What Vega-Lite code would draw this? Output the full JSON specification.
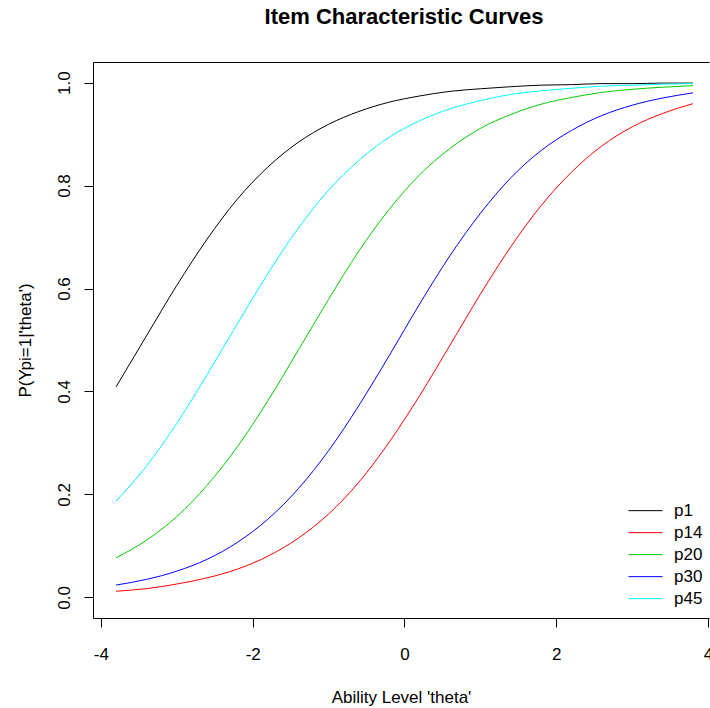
{
  "$schema": "https://vega.github.io/schema/vega-lite/v6.json",
  "width": 616,
  "height": 556,
  "autosize": "none",
  "padding": {"left": 93, "top": 62, "right": 1, "bottom": 90},
  "background": "white",
  "title": {
    "text": "Item Characteristic Curves",
    "font": "Liberation Sans",
    "fontSize": 22,
    "fontWeight": "bold",
    "color": "black",
    "anchor": "middle",
    "frame": "group",
    "offset": 33,
    "dx": 3
  },
  "config": {
    "view": {"stroke": null},
    "axis": {
      "grid": false,
      "domainColor": "black",
      "domainWidth": 1,
      "tickColor": "black",
      "tickWidth": 1,
      "labelFont": "Liberation Sans",
      "labelColor": "black",
      "titleFont": "Liberation Sans",
      "titleColor": "black",
      "titleFontWeight": "normal"
    }
  },
  "data": {
    "values": [
      {"item": "p1", "theta": -3.8, "p": 0.409}, {"item": "p1", "theta": -3.4, "p": 0.508}, {"item": "p1", "theta": -3.0, "p": 0.606}, {"item": "p1", "theta": -2.6, "p": 0.696}, {"item": "p1", "theta": -2.2, "p": 0.774}, {"item": "p1", "theta": -1.8, "p": 0.836}, {"item": "p1", "theta": -1.4, "p": 0.884}, {"item": "p1", "theta": -1.0, "p": 0.919}, {"item": "p1", "theta": -0.6, "p": 0.944}, {"item": "p1", "theta": -0.2, "p": 0.962}, {"item": "p1", "theta": 0.2, "p": 0.974}, {"item": "p1", "theta": 0.6, "p": 0.983}, {"item": "p1", "theta": 1.0, "p": 0.988}, {"item": "p1", "theta": 1.4, "p": 0.992}, {"item": "p1", "theta": 1.8, "p": 0.995}, {"item": "p1", "theta": 2.2, "p": 0.996}, {"item": "p1", "theta": 2.6, "p": 0.998}, {"item": "p1", "theta": 3.0, "p": 0.998}, {"item": "p1", "theta": 3.4, "p": 0.999}, {"item": "p1", "theta": 3.8, "p": 0.999},
      {"item": "p14", "theta": -3.8, "p": 0.012}, {"item": "p14", "theta": -3.4, "p": 0.017}, {"item": "p14", "theta": -3.0, "p": 0.026}, {"item": "p14", "theta": -2.6, "p": 0.038}, {"item": "p14", "theta": -2.2, "p": 0.055}, {"item": "p14", "theta": -1.8, "p": 0.080}, {"item": "p14", "theta": -1.4, "p": 0.115}, {"item": "p14", "theta": -1.0, "p": 0.162}, {"item": "p14", "theta": -0.6, "p": 0.224}, {"item": "p14", "theta": -0.2, "p": 0.302}, {"item": "p14", "theta": 0.2, "p": 0.392}, {"item": "p14", "theta": 0.6, "p": 0.490}, {"item": "p14", "theta": 1.0, "p": 0.589}, {"item": "p14", "theta": 1.4, "p": 0.681}, {"item": "p14", "theta": 1.8, "p": 0.761}, {"item": "p14", "theta": 2.2, "p": 0.826}, {"item": "p14", "theta": 2.6, "p": 0.877}, {"item": "p14", "theta": 3.0, "p": 0.914}, {"item": "p14", "theta": 3.4, "p": 0.940}, {"item": "p14", "theta": 3.8, "p": 0.959},
      {"item": "p20", "theta": -3.8, "p": 0.077}, {"item": "p20", "theta": -3.4, "p": 0.111}, {"item": "p20", "theta": -3.0, "p": 0.157}, {"item": "p20", "theta": -2.6, "p": 0.218}, {"item": "p20", "theta": -2.2, "p": 0.293}, {"item": "p20", "theta": -1.8, "p": 0.382}, {"item": "p20", "theta": -1.4, "p": 0.480}, {"item": "p20", "theta": -1.0, "p": 0.579}, {"item": "p20", "theta": -0.6, "p": 0.673}, {"item": "p20", "theta": -0.2, "p": 0.754}, {"item": "p20", "theta": 0.2, "p": 0.821}, {"item": "p20", "theta": 0.6, "p": 0.872}, {"item": "p20", "theta": 1.0, "p": 0.911}, {"item": "p20", "theta": 1.4, "p": 0.938}, {"item": "p20", "theta": 1.8, "p": 0.958}, {"item": "p20", "theta": 2.2, "p": 0.971}, {"item": "p20", "theta": 2.6, "p": 0.981}, {"item": "p20", "theta": 3.0, "p": 0.987}, {"item": "p20", "theta": 3.4, "p": 0.991}, {"item": "p20", "theta": 3.8, "p": 0.994},
      {"item": "p30", "theta": -3.8, "p": 0.024}, {"item": "p30", "theta": -3.4, "p": 0.035}, {"item": "p30", "theta": -3.0, "p": 0.051}, {"item": "p30", "theta": -2.6, "p": 0.074}, {"item": "p30", "theta": -2.2, "p": 0.107}, {"item": "p30", "theta": -1.8, "p": 0.152}, {"item": "p30", "theta": -1.4, "p": 0.211}, {"item": "p30", "theta": -1.0, "p": 0.285}, {"item": "p30", "theta": -0.6, "p": 0.373}, {"item": "p30", "theta": -0.2, "p": 0.470}, {"item": "p30", "theta": 0.2, "p": 0.570}, {"item": "p30", "theta": 0.6, "p": 0.664}, {"item": "p30", "theta": 1.0, "p": 0.746}, {"item": "p30", "theta": 1.4, "p": 0.815}, {"item": "p30", "theta": 1.8, "p": 0.868}, {"item": "p30", "theta": 2.2, "p": 0.907}, {"item": "p30", "theta": 2.6, "p": 0.936}, {"item": "p30", "theta": 3.0, "p": 0.956}, {"item": "p30", "theta": 3.4, "p": 0.970}, {"item": "p30", "theta": 3.8, "p": 0.980},
      {"item": "p45", "theta": -3.8, "p": 0.187}, {"item": "p45", "theta": -3.4, "p": 0.255}, {"item": "p45", "theta": -3.0, "p": 0.338}, {"item": "p45", "theta": -2.6, "p": 0.433}, {"item": "p45", "theta": -2.2, "p": 0.532}, {"item": "p45", "theta": -1.8, "p": 0.629}, {"item": "p45", "theta": -1.4, "p": 0.717}, {"item": "p45", "theta": -1.0, "p": 0.791}, {"item": "p45", "theta": -0.6, "p": 0.849}, {"item": "p45", "theta": -0.2, "p": 0.894}, {"item": "p45", "theta": 0.2, "p": 0.926}, {"item": "p45", "theta": 0.6, "p": 0.949}, {"item": "p45", "theta": 1.0, "p": 0.965}, {"item": "p45", "theta": 1.4, "p": 0.977}, {"item": "p45", "theta": 1.8, "p": 0.984}, {"item": "p45", "theta": 2.2, "p": 0.989}, {"item": "p45", "theta": 2.6, "p": 0.993}, {"item": "p45", "theta": 3.0, "p": 0.995}, {"item": "p45", "theta": 3.4, "p": 0.997}, {"item": "p45", "theta": 3.8, "p": 0.998}
    ]
  },
  "layer": [
    {
      "mark": {"type": "line", "strokeWidth": 1, "interpolate": "monotone"},
      "encoding": {
        "x": {
          "field": "theta",
          "type": "quantitative",
          "scale": {"domain": [-4.104, 4.012], "nice": false, "zero": false},
          "axis": {
            "orient": "bottom",
            "values": [-4, -2, 0, 2, 4],
            "labelExpr": "datum.value < 0 ? '-' + abs(datum.value) : '' + datum.value",
            "tickSize": 9,
            "labelFontSize": 17,
            "labelPadding": 19,
            "labelFlush": false,
            "title": "Ability Level 'theta'",
            "titleFontSize": 17,
            "titleX": 308,
            "titleY": 79,
            "titleAlign": "center",
            "titleBaseline": "middle"
          }
        },
        "y": {
          "field": "p",
          "type": "quantitative",
          "scale": {"domain": [-0.04, 1.04], "nice": false, "zero": false},
          "axis": {
            "values": [0, 0.2, 0.4, 0.6, 0.8, 1.0],
            "format": ".1f",
            "labelAngle": 270,
            "labelAlign": "center",
            "labelBaseline": "bottom",
            "tickSize": 9,
            "labelFontSize": 17,
            "labelPadding": 11,
            "labelFlush": false,
            "title": "P(Ypi=1|'theta')",
            "titleFontSize": 17,
            "titleAngle": 270,
            "titleX": -68,
            "titleY": 278,
            "titleAlign": "center",
            "titleBaseline": "middle"
          }
        },
        "color": {
          "field": "item",
          "type": "nominal",
          "scale": {
            "domain": ["p1", "p14", "p20", "p30", "p45"],
            "range": ["#000000", "#FF0000", "#00CD00", "#0000FF", "#00FFFF"]
          },
          "legend": {
            "orient": "none",
            "legendX": 535,
            "legendY": 438,
            "title": null,
            "padding": 0,
            "symbolType": "stroke",
            "symbolSize": 1156,
            "symbolStrokeWidth": 1,
            "symbolOpacity": 1,
            "clipHeight": 21.3,
            "rowPadding": 0,
            "labelFont": "Liberation Sans",
            "labelFontSize": 17,
            "labelColor": "black",
            "labelOffset": 11,
            "encode": {
              "symbols": {"update": {"stroke": {"scale": "color", "field": "value"}}}
            }
          }
        }
      }
    },
    {
      "mark": {"type": "line", "opacity": 0},
      "encoding": {
        "x": {
          "field": "theta",
          "type": "quantitative",
          "scale": {"domain": [-4.104, 4.012], "nice": false, "zero": false},
          "axis": {"orient": "top", "labels": false, "ticks": false, "title": null, "domain": true}
        },
        "y": {
          "field": "p",
          "type": "quantitative",
          "scale": {"domain": [-0.04, 1.04], "nice": false, "zero": false}
        },
        "detail": {"field": "item"}
      }
    }
  ],
  "resolve": {"axis": {"x": "independent"}}
}
